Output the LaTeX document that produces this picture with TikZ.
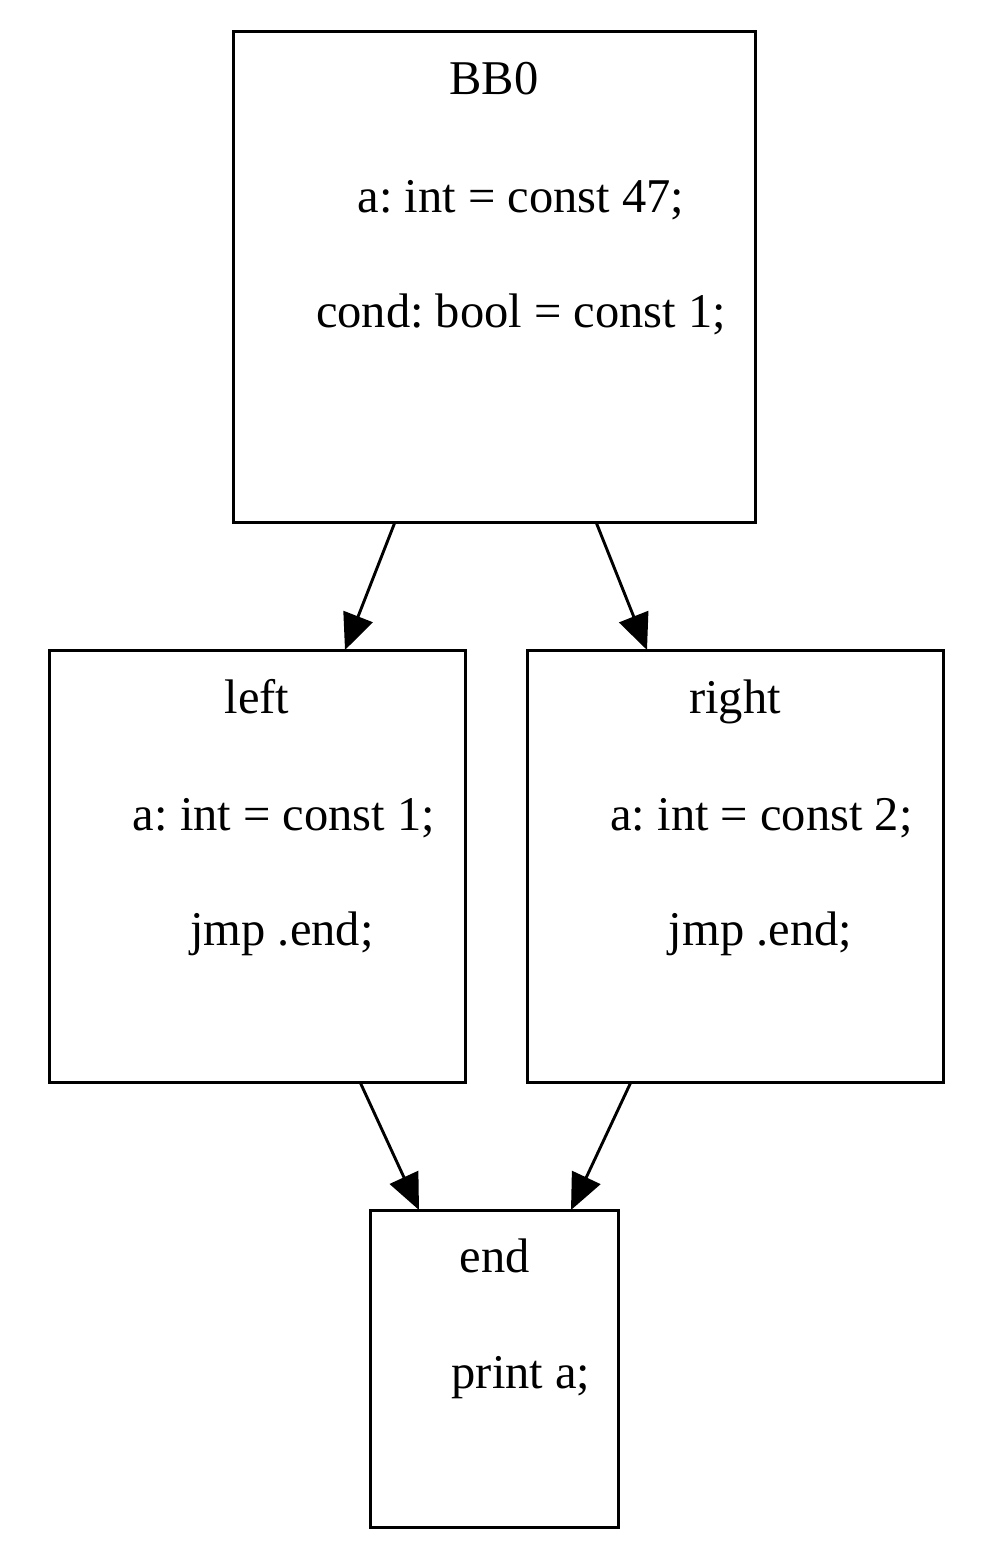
\documentclass[tikz,border=0pt]{standalone}
\usepackage{fontspec}
\setmainfont{Liberation Serif}
\usetikzlibrary{arrows.meta,calc}
\frenchspacing
\begin{document}
\begin{tikzpicture}[x=1pt,y=-1pt,
  blk/.style={draw,line width=3pt,rectangle,inner sep=0pt,outer sep=0pt},
  txt/.style={anchor=base,inner sep=0pt,font=\fontsize{48.5}{58}\selectfont\frenchspacing},
  arr/.style={line width=2.9pt,-{Triangle[length=36pt,width=31pt]}}]
\useasboundingbox (0,0) rectangle (1000,1552);
\fill[white] (0,0) rectangle (1000,1552);
% boxes
\node[blk,minimum width=522pt,minimum height=490pt] (bb0) at (494,277) {};
\node[blk,minimum width=416pt,minimum height=432pt] (left) at (257,866) {};
\node[blk,minimum width=416pt,minimum height=432pt] (right) at (735,866) {};
\node[blk,minimum width=248pt,minimum height=317pt] (end) at (494,1368.5) {};
% texts
\node[txt] (t0) at (494,95) {BB0};
\node[txt] (t1) at (521,212) {a: int = const 47;};
\node[txt] (t2) at (521,327) {cond: bool = const 1;};
\node[txt] (t3) at (257,713) {left};
\node[txt] (t4) at (284,830) {a: int = const 1;};
\node[txt] (t5) at (282,945) {jmp .end;};
\node[txt] (t6) at (735,713) {right};
\node[txt] (t7) at (761.5,830) {a: int = const 2;};
\node[txt] (t8) at (760.5,945) {jmp .end;};
\node[txt] (t9) at (495,1272) {end};
\node[txt] (t10) at (521,1388) {print a;};
% edges
\draw[arr] ($(bb0.south west)+(162,0)$) -- ($(left.north west)+(296,0)$);
\draw[arr] ($(bb0.south west)+(363,0)$) -- ($(right.north west)+(120,0)$);
\draw[arr] ($(left.south west)+(311,0)$) -- ($(end.north west)+(49,0)$);
\draw[arr] ($(right.south west)+(104,0)$) -- ($(end.north west)+(201,0)$);
\end{tikzpicture}
\end{document}
